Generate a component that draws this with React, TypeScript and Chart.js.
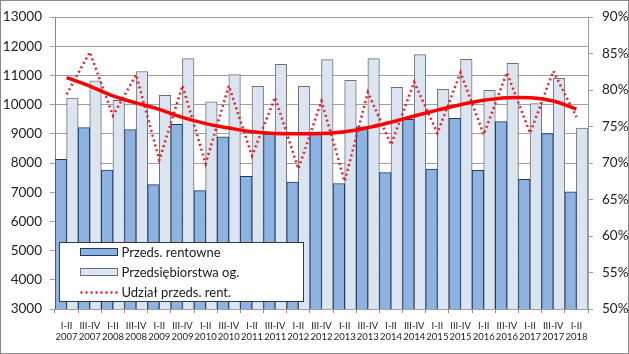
import React, { useEffect, useRef } from 'react';
import { Chart, registerables } from 'chart.js';

Chart.register(...registerables);

const periods = ['I-II', 'III-IV', 'I-II', 'III-IV', 'I-II', 'III-IV', 'I-II', 'III-IV', 'I-II', 'III-IV', 'I-II', 'III-IV', 'I-II', 'III-IV', 'I-II', 'III-IV', 'I-II', 'III-IV', 'I-II', 'III-IV', 'I-II', 'III-IV', 'I-II'];
const years = ['2007', '2007', '2008', '2008', '2009', '2009', '2010', '2010', '2011', '2011', '2012', '2012', '2013', '2013', '2014', '2014', '2015', '2015', '2016', '2016', '2017', '2017', '2018'];

// Przeds. rentowne
const profitable = [8125, 9215, 7760, 9150, 7260, 9330, 7055, 8900, 7545, 8990, 7350, 9045, 7300, 9240, 7670, 9500, 7795, 9535, 7750, 9420, 7440, 9010, 7010];
// Przedsiębiorstwa og.
const total = [10230, 10815, 10150, 11135, 10320, 11580, 10100, 11035, 10625, 11385, 10625, 11545, 10830, 11580, 10590, 11715, 10525, 11555, 10490, 11420, 10035, 10900, 9195];
// Udział przeds. rent. (%)
const sharePct = [79.4, 85.2, 76.5, 82.1, 70.4, 80.6, 69.9, 80.6, 71.0, 79.0, 69.2, 78.5, 67.5, 79.7, 72.5, 81.1, 74.1, 82.4, 73.9, 82.4, 74.1, 82.6, 76.3];
// Trend (polynomial) of the share (%)
const shareTrend = [81.7, 80.55, 79.2, 78.25, 77.35, 76.25, 75.4, 74.8, 74.3, 74.05, 74.0, 74.05, 74.3, 74.85, 75.6, 76.45, 77.25, 78.0, 78.6, 78.95, 78.95, 78.5, 77.4];

const legendItems = ['Przeds. rentowne', 'Przedsiębiorstwa og.', 'Udział przeds. rent.'];

const FONT = 'Lato, "Open Sans", sans-serif';

const framePlugin = {
  id: 'frame',
  beforeDraw(chart: any) {
    const ctx = chart.ctx;
    ctx.save();
    ctx.fillStyle = '#ffffff';
    ctx.fillRect(0, 0, chart.width, chart.height);
    ctx.restore();
  },
  afterDraw(chart: any) {
    const ctx = chart.ctx;
    ctx.save();
    ctx.strokeStyle = '#8a8a8a';
    ctx.lineWidth = 1;
    ctx.strokeRect(0.5, 0.5, chart.width - 1, chart.height - 1);
    ctx.restore();
  },
};

const legendPlugin = {
  id: 'boxLegend',
  afterDatasetsDraw(chart: any) {
    const ctx = chart.ctx;
    const { left, bottom } = chart.chartArea;
    const x0 = Math.round(left + 4) + 0.5;
    const y0 = Math.round(bottom - 67) + 0.5;
    const w = 244;
    const h = 59;
    ctx.save();
    ctx.fillStyle = '#ffffff';
    ctx.fillRect(x0, y0, w, h);
    ctx.strokeStyle = '#3a3a3a';
    ctx.lineWidth = 1;
    ctx.strokeRect(x0, y0, w, h);
    const sx = x0 + 21;
    const sw = 37;
    const rows = [y0 + 10, y0 + 30, y0 + 50];
    ctx.fillStyle = '#8db3e2';
    ctx.fillRect(sx, rows[0] - 4, sw, 7);
    ctx.strokeStyle = '#1f3a5f';
    ctx.strokeRect(sx, rows[0] - 4, sw, 7);
    ctx.fillStyle = '#dbe5f1';
    ctx.fillRect(sx, rows[1] - 4, sw, 7);
    ctx.strokeStyle = '#707070';
    ctx.strokeRect(sx, rows[1] - 4, sw, 7);
    ctx.strokeStyle = '#e8202a';
    ctx.lineWidth = 2.5;
    ctx.setLineDash([2, 3]);
    ctx.beginPath();
    ctx.moveTo(sx, rows[2]);
    ctx.lineTo(sx + sw, rows[2]);
    ctx.stroke();
    ctx.setLineDash([]);
    ctx.fillStyle = '#1a1a1a';
    ctx.font = `13px ${FONT}`;
    ctx.textBaseline = 'middle';
    ctx.textAlign = 'left';
    legendItems.forEach((t, i) => ctx.fillText(t, sx + sw + 4, rows[i]));
    ctx.restore();
  },
};

export default function App() {
  const ref = useRef<HTMLCanvasElement | null>(null);

  useEffect(() => {
    document.body.style.margin = '0';
    if (!ref.current) return;
    const labels = periods.map((p, i) => [p, years[i]]);
    const chart = new Chart(ref.current, {
      type: 'bar',
      data: {
        labels,
        datasets: [
          {
            type: 'line',
            label: 'Trend',
            data: shareTrend,
            yAxisID: 'y1',
            borderColor: '#ff0000',
            borderWidth: 3.5,
            pointRadius: 0,
            tension: 0.4,
            fill: false,
            order: 0,
          } as any,
          {
            type: 'line',
            label: legendItems[2],
            data: sharePct,
            yAxisID: 'y1',
            borderColor: '#e8202a',
            borderWidth: 2.5,
            borderDash: [2, 3],
            pointRadius: 0,
            tension: 0,
            fill: false,
            order: 1,
          } as any,
          {
            type: 'bar',
            label: legendItems[0],
            data: profitable,
            yAxisID: 'y',
            backgroundColor: '#8db3e2',
            borderColor: '#1f3a5f',
            borderWidth: 1,
            categoryPercentage: 1,
            barPercentage: 1,
            order: 2,
          },
          {
            type: 'bar',
            label: legendItems[1],
            data: total,
            yAxisID: 'y',
            backgroundColor: '#dbe5f1',
            borderColor: '#707070',
            borderWidth: 1,
            categoryPercentage: 1,
            barPercentage: 1,
            order: 2,
          },
        ],
      },
      options: {
        responsive: false,
        animation: false,
        events: [],
        layout: { padding: { top: 16, left: 0, right: 0, bottom: 0 } },
        plugins: {
          legend: { display: false },
          tooltip: { enabled: false },
        },
        scales: {
          x: {
            offset: true,
            grid: {
              display: true,
              offset: true,
              drawOnChartArea: false,
              drawTicks: true,
              tickLength: 4,
              color: '#8a8a8a',
            },
            border: { display: false },
            ticks: {
              autoSkip: false,
              maxRotation: 0,
              minRotation: 0,
              padding: 7,
              color: '#222',
              font: { family: FONT, size: 9.5, lineHeight: 1.2 },
            },
            afterFit: (s: any) => {
              s.height = 45;
            },
          },
          y: {
            position: 'left',
            min: 3000,
            max: 13000,
            ticks: {
              stepSize: 1000,
              padding: 8,
              color: '#222',
              font: { family: FONT, size: 13.5 },
              callback: (v: any) => String(v),
            },
            grid: {
              color: '#a0a0a0',
              tickLength: 5,
              drawTicks: true,
            },
            border: { display: true, color: '#8a8a8a' },
            afterFit: (s: any) => {
              s.width = 55;
            },
          },
          y1: {
            position: 'right',
            min: 50,
            max: 90,
            ticks: {
              stepSize: 5,
              padding: 9,
              color: '#222',
              font: { family: FONT, size: 13.5 },
              callback: (v: any) => `${v}%`,
            },
            grid: {
              drawOnChartArea: false,
              drawTicks: true,
              tickLength: 5,
              color: '#a0a0a0',
            },
            border: { display: true, color: '#a0a0a0' },
            afterFit: (s: any) => {
              s.width = 41;
            },
          },
        },
      },
      plugins: [framePlugin, legendPlugin],
    });
    return () => chart.destroy();
  }, []);

  return (
    <div style={{ width: 629, height: 354 }}>
      <canvas ref={ref} width={629} height={354} style={{ display: 'block' }} />
    </div>
  );
}
